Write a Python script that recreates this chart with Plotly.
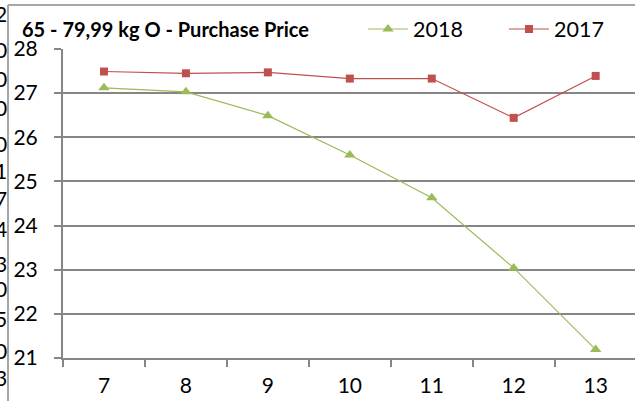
import plotly.graph_objects as go

weeks = ["7", "8", "9", "10", "11", "12", "13"]
price_2018 = [27.12, 27.03, 26.49, 25.60, 24.63, 23.04, 21.19]
price_2017 = [27.49, 27.45, 27.47, 27.33, 27.33, 26.44, 27.39]
y_ticks = [21, 22, 23, 24, 25, 26, 27, 28]
title_text = "65 - 79,99 kg O - Purchase Price"
# clipped tick-label fragments of the neighbouring chart at the left edge
side_labels = ["2", "0", "0", "0", "0", "1", "7", "4", "3", "0", "5", "0", "3"]
side_y_px = [14, 50, 79, 107, 143, 170, 198, 228, 263, 288, 318, 350, 378]

W, H = 635, 401
L, T, B, R = 63, 49, 43, 0
pw, ph = W - L - R, H - T - B

def px_x(x):
    return (x - L) / pw

def px_y(y):
    return (H - B - y) / ph

FONT = "Lato, Carlito, Calibri, sans-serif"
GRID = "#868686"

fig = go.Figure()
fig.add_trace(go.Scatter(
    x=weeks, y=price_2018, name="2018", mode="lines+markers",
    line=dict(color="#9BBB59", width=1.2),
    marker=dict(symbol="triangle-up", size=10, color="#9BBB59"),
))
fig.add_trace(go.Scatter(
    x=weeks, y=price_2017, name="2017", mode="lines+markers",
    line=dict(color="#C0504D", width=1.2),
    marker=dict(symbol="square", size=8, color="#C0504D"),
))

fig.update_layout(
    width=W, height=H,
    margin=dict(l=L, r=R, t=T, b=B, pad=0, autoexpand=False),
    plot_bgcolor="white", paper_bgcolor="white",
    font=dict(family=FONT, size=21, color="black"),
    showlegend=True,
    legend=dict(
        orientation="h", x=px_x(363), y=px_y(29), xanchor="left", yanchor="middle",
        font=dict(size=21.5), entrywidth=86, entrywidthmode="pixels",
        bgcolor="rgba(0,0,0,0)", itemwidth=40,
    ),
    xaxis=dict(
        type="category", range=[-0.5, 6.48],
        showgrid=False, showline=True, linecolor=GRID, linewidth=2,
        ticks="outside", tickson="boundaries", ticklen=7, tickcolor=GRID, tickwidth=2,
        tickfont=dict(size=21), zeroline=False, ticklabelstandoff=8,
    ),
    yaxis=dict(
        range=[21, 28], tickvals=y_ticks,
        showgrid=True, gridcolor=GRID, gridwidth=1.5,
        showline=True, linecolor=GRID, linewidth=2,
        ticks="outside", ticklen=7, tickcolor=GRID, tickwidth=2,
        tickfont=dict(size=21), zeroline=False, ticklabelstandoff=12,
    ),
)

fig.add_annotation(
    text="<b>" + title_text + "</b>", xref="paper", yref="paper",
    x=px_x(20), y=px_y(29), xanchor="left", yanchor="middle",
    showarrow=False, font=dict(size=20, family=FONT, color="black"),
)

for s, yp in zip(side_labels, side_y_px):
    fig.add_annotation(
        text=s, xref="paper", yref="paper", x=px_x(9), y=px_y(yp),
        xanchor="right", yanchor="middle", showarrow=False,
        font=dict(size=21, family=FONT, color="black"),
    )

# chart frame (left and top border)
fig.add_shape(type="line", xref="paper", yref="paper",
              x0=px_x(8), x1=px_x(8), y0=px_y(401), y1=px_y(5),
              line=dict(color="#A6A6A6", width=2))
fig.add_shape(type="line", xref="paper", yref="paper",
              x0=px_x(8), x1=px_x(640), y0=px_y(5), y1=px_y(5),
              line=dict(color="#A6A6A6", width=2))

fig.write_html("out.html", config={"displayModeBar": False},
               post_script="document.body.style.margin='0px';")
